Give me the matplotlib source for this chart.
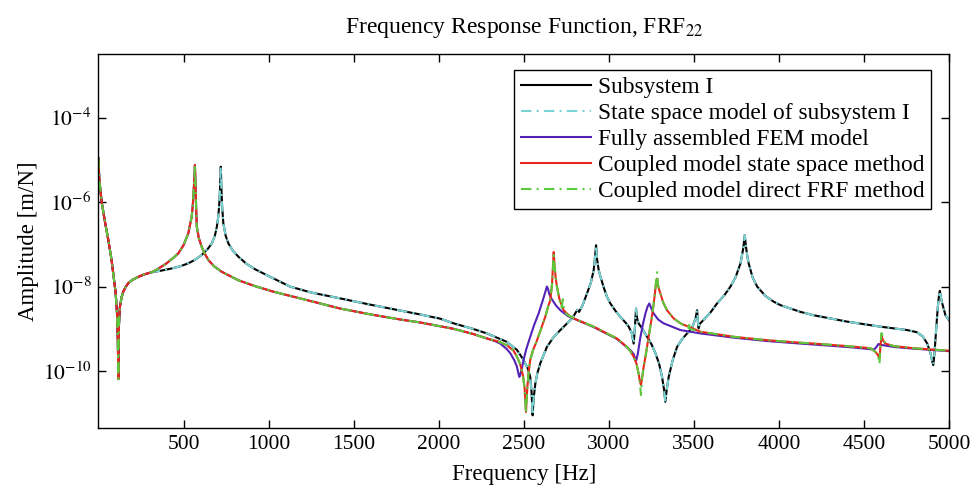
import numpy as np
import matplotlib
matplotlib.use("Agg")
import matplotlib.pyplot as plt

plt.rcParams['font.family'] = ['Liberation Serif', 'DejaVu Serif']
plt.rcParams['mathtext.fontset'] = 'stix'

# ---- data (frequency in Hz, log10 amplitude in m/N) ----
low_f = [0, 5, 19, 38, 58, 77, 87, 101, 109, 114, 117, 120, 126, 136, 146, 160, 175, 200, 234, 270, 313]
low_a = [-4.96, -5.47, -6.0, -6.46, -6.9, -7.37, -7.69, -8.15, -8.63, -9.3, -10.19, -8.95, -8.48, -8.25,
         -8.12, -8.01, -7.92, -7.84, -7.77, -7.71, -7.66]

sub_f = low_f + [372, 431, 480, 528, 570, 607, 640, 666, 684, 696, 704, 709, 714, 719, 723, 727, 734, 748,
                 764, 790, 822, 870, 921, 1000, 1126, 1250, 1421, 1600, 1715, 1891, 2009, 2087, 2200, 2284,
                 2401, 2460, 2499, 2525, 2538, 2546, 2552, 2558, 2568, 2580, 2597, 2636, 2675, 2715, 2760,
                 2790, 2805, 2815, 2825, 2845, 2872, 2895, 2911, 2919, 2925, 2931, 2940, 2950, 2970, 2989,
                 3009, 3040, 3068, 3100, 3117, 3135, 3146, 3153, 3160, 3166, 3175, 3200, 3225, 3250, 3274,
                 3295, 3313, 3325, 3332, 3340, 3352, 3375, 3401, 3430, 3460, 3490, 3510, 3519, 3524, 3528,
                 3535, 3557, 3600, 3636, 3680, 3715, 3745, 3774, 3790, 3799, 3806, 3815, 3822, 3845, 3872,
                 3920, 3970, 4009, 4127, 4205, 4401, 4597, 4754, 4810, 4845, 4872, 4891, 4900, 4907, 4914,
                 4921, 4928, 4934, 4941, 4946, 4952, 4960, 4979, 5000]
sub_a = low_a + [-7.62, -7.57, -7.52, -7.45, -7.36, -7.25, -7.12, -6.98, -6.8, -6.58, -6.35, -6.11, -5.75,
                 -5.16, -5.7, -6.1, -6.5, -6.8, -6.98, -7.15, -7.29, -7.46, -7.59, -7.75, -8.0, -8.14, -8.28,
                 -8.43, -8.52, -8.66, -8.76, -8.87, -9.0, -9.11, -9.31, -9.50, -9.74, -9.95, -10.14, -10.5,
                 -11.05, -10.65, -10.3, -10.05, -9.82, -9.43, -9.2, -9.03, -8.85, -8.72, -8.62, -8.55, -8.60,
                 -8.45, -8.16, -7.9, -7.61, -7.3, -7.02, -7.35, -7.6, -7.75, -8.02, -8.24, -8.40, -8.58, -8.72,
                 -8.86, -8.95, -9.1, -9.35, -9.0, -8.52, -8.75, -8.87, -9.02, -9.19, -9.36, -9.58, -9.82,
                 -10.14, -10.45, -10.73, -10.45, -10.14, -9.75, -9.43, -9.25, -9.11, -8.97, -8.75, -8.56,
                 -8.85, -8.99, -8.88, -8.79, -8.6, -8.40, -8.2, -8.0, -7.78, -7.45, -7.1, -6.78, -7.05, -7.3,
                 -7.45, -7.78, -8.0, -8.22, -8.36, -8.44, -8.60, -8.68, -8.83, -8.95, -9.03, -9.08, -9.18,
                 -9.35, -9.58, -9.75, -9.86, -9.6, -9.19, -8.8, -8.48, -8.2, -8.10, -8.25, -8.40, -8.68, -8.80]

ss_f = sub_f
ss_a = sub_a

mid_f = [350, 400, 440, 470, 500, 528, 540, 548, 555, 560, 564, 567, 570, 574, 578, 590, 607, 625, 646, 680,
         725, 822, 921, 1028, 1225, 1421, 1600, 1774, 1891, 2087, 2200, 2284]
mid_a = [-7.58, -7.45, -7.32, -7.21, -7.02, -6.74, -6.5, -6.35, -6.05, -5.71, -5.4, -5.12, -5.5, -6.1, -6.58,
         -6.85, -7.06, -7.22, -7.37, -7.52, -7.65, -7.85, -7.99, -8.12, -8.32, -8.52, -8.66, -8.78, -8.85,
         -9.0, -9.12, -9.23]

fem_f = low_f + mid_f + [2330, 2362, 2400, 2421, 2445, 2460, 2468, 2474, 2480, 2488, 2499, 2515, 2538, 2560,
                         2587, 2610, 2625, 2636, 2643, 2650, 2665, 2690, 2715, 2760, 2813, 2911, 3048, 3107,
                         3130, 3146, 3155, 3162, 3170, 3186, 3200, 3215, 3228, 3238, 3248, 3264, 3290, 3322,
                         3421, 3539, 3735, 3931, 4127, 4401, 4560, 4575, 4585, 4600, 4675, 4793, 5000]
fem_a = low_a + mid_a + [-9.29, -9.35, -9.48, -9.58, -9.75, -9.9, -10.05, -10.14, -10.08, -9.95, -9.74,
                         -9.48, -9.19, -8.92, -8.64, -8.35, -8.15, -8.0, -8.06, -8.18, -8.3, -8.45, -8.56,
                         -8.7, -8.79, -8.96, -9.24, -9.44, -9.52, -9.6, -9.7, -9.74, -9.6, -9.19, -8.9, -8.64,
                         -8.47, -8.40, -8.5, -8.64, -8.78, -8.87, -9.03, -9.11, -9.21, -9.29, -9.35, -9.43,
                         -9.49, -9.42, -9.36, -9.38, -9.43, -9.47, -9.53]

css_f = low_f + mid_f + [2350, 2401, 2440, 2460, 2480, 2495, 2505, 2513, 2520, 2528, 2538, 2555, 2578, 2600,
                         2626, 2645, 2656, 2666, 2672, 2676, 2681, 2688, 2695, 2710, 2734, 2770, 2813, 2911,
                         2950, 3048, 3107, 3130, 3146, 3162, 3175, 3183, 3189, 3196, 3205, 3220, 3234, 3250,
                         3264, 3272, 3278, 3284, 3289, 3296, 3303, 3320, 3342, 3380, 3421, 3539, 3735, 3931,
                         4127, 4205, 4401, 4538, 4568, 4582, 4591, 4597, 4603, 4612, 4626, 4675, 4793, 5000]
css_a = low_a + mid_a + [-9.3, -9.39, -9.52, -9.66, -9.85, -10.1, -10.4, -10.97, -10.45, -10.05, -9.74,
                         -9.5, -9.27, -9.02, -8.72, -8.45, -8.32, -7.95, -7.5, -7.18, -7.5, -7.8, -8.0, -8.3,
                         -8.56, -8.7, -8.79, -8.95, -9.03, -9.23, -9.43, -9.55, -9.66, -9.82, -10.06, -10.25,
                         -10.33, -10.15, -9.90, -9.55, -9.19, -8.8, -8.40, -8.12, -7.92, -7.81, -7.95, -8.08,
                         -8.16, -8.38, -8.56, -8.75, -8.87, -9.07, -9.19, -9.27, -9.33, -9.35, -9.41, -9.46,
                         -9.55, -9.62, -9.70, -9.4, -9.15, -9.28, -9.35, -9.41, -9.46, -9.52]

frf_f = low_f + mid_f + [2350, 2401, 2440, 2460, 2480, 2495, 2505, 2513, 2520, 2528, 2538, 2555, 2578, 2600,
                         2626, 2645, 2656, 2666, 2672, 2676, 2681, 2688, 2695, 2712, 2722, 2730, 2738, 2760,
                         2813, 2911, 2950, 3048, 3107, 3130, 3146, 3162, 3175, 3183, 3189, 3196, 3205, 3220,
                         3234, 3250, 3264, 3272, 3278, 3284, 3289, 3296, 3303, 3320, 3342, 3380, 3421, 3465,
                         3470, 3476, 3539, 3735, 3931, 4127, 4205, 4401, 4538, 4568, 4582, 4591, 4597, 4603,
                         4615, 4626, 4675, 4793, 5000]
frf_a = low_a + mid_a + [-9.3, -9.39, -9.52, -9.66, -9.85, -10.1, -10.4, -11.0, -10.45, -10.05, -9.74,
                         -9.5, -9.27, -9.02, -8.72, -8.45, -8.32, -7.95, -7.55, -7.25, -7.5, -7.8, -8.0, -8.35,
                         -8.5, -8.3, -8.6, -8.68, -8.79, -8.95, -9.03, -9.23, -9.43, -9.55, -9.66, -9.82,
                         -10.06, -10.3, -10.57, -10.15, -9.90, -9.55, -9.19, -8.8, -8.40, -8.1, -7.85, -7.66,
                         -7.95, -8.08, -8.16, -8.38, -8.56, -8.75, -8.87, -8.98, -8.85, -9.0, -9.07, -9.19,
                         -9.27, -9.33, -9.35, -9.41, -9.46, -9.55, -9.65, -9.83, -9.4, -9.10, -9.25, -9.35,
                         -9.41, -9.46, -9.52]

labels = ["Subsystem I", "State space model of subsystem I", "Fully assembled FEM model",
          "Coupled model state space method", "Coupled model direct FRF method"]
xticks = [500, 1000, 1500, 2000, 2500, 3000, 3500, 4000, 4500, 5000]
yticks = [1e-10, 1e-8, 1e-6, 1e-4]
ytick_labels = ["$10^{-10}$", "$10^{-8}$", "$10^{-6}$", "$10^{-4}$"]

fig = plt.figure(figsize=(9.71, 4.94), dpi=100)
ax = fig.add_axes([0.1014, 0.1336, 0.8760, 0.7571])

lw = 1.5
dd = (5, 2.5, 1, 2.5)
ax.semilogy(sub_f, 10.0 ** np.array(sub_a), color='black', lw=lw, label=labels[0])
ax.semilogy(ss_f, 10.0 ** np.array(ss_a), color='#7ad3d3', lw=lw, dashes=dd, label=labels[1])
ax.semilogy(fem_f, 10.0 ** np.array(fem_a), color='#5522b8', lw=lw, label=labels[2])
ax.semilogy(css_f, 10.0 ** np.array(css_a), color='#e8281e', lw=lw, label=labels[3])
ax.semilogy(frf_f, 10.0 ** np.array(frf_a), color='#5cc83c', lw=lw, dashes=dd, label=labels[4])

ax.set_xlim(0, 5000)
ax.set_ylim(10 ** -11.35, 10 ** -2.49)
ax.set_xticks(xticks)
ax.set_xticklabels([str(t) for t in xticks])
ax.set_yticks(yticks)
ax.set_yticklabels(ytick_labels)
ax.yaxis.set_minor_locator(matplotlib.ticker.NullLocator())
ax.tick_params(which='both', direction='in', top=True, right=True, length=6, width=1, labelsize=15.5, pad=5)
for s in ax.spines.values():
    s.set_linewidth(1.0)

ax.set_title("Frequency Response Function, FRF$_{22}$", fontsize=17, pad=15)
ax.set_xlabel("Frequency [Hz]", fontsize=16.5, labelpad=7)
ax.set_ylabel("Amplitude [m/N]", fontsize=16.5, labelpad=3)

leg = ax.legend(loc='upper right', fontsize=16.8, frameon=True, fancybox=False, edgecolor='black',
                framealpha=1, handlelength=3.0, handletextpad=0.3, labelspacing=0.2, borderpad=0.3,
                borderaxespad=0, bbox_to_anchor=(0.979, 0.957))
leg.get_frame().set_linewidth(1.0)

fig.savefig("out.png", dpi=100)
